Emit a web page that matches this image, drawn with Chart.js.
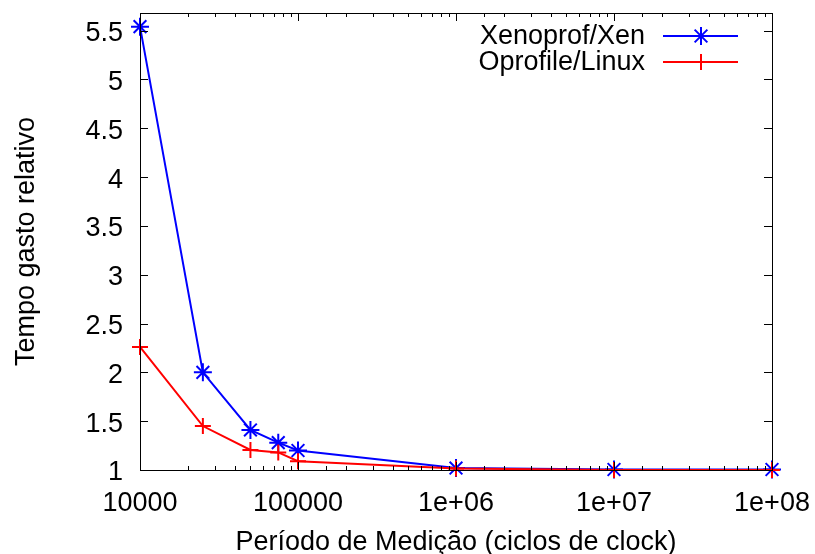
<!DOCTYPE html>
<html>
<head>
<meta charset="utf-8">
<script src="https://cdn.jsdelivr.net/npm/chart.js@4/dist/chart.umd.min.js"></script>
<style>
  html, body { margin: 0; padding: 0; background: #fff; }
  #wrap { width: 815px; height: 554px; }
</style>
</head>
<body>
<div id="wrap"><canvas id="chart" width="815" height="554"></canvas></div>
<script>
// --- DATA ---
const periods = [10000, 25000, 50000, 75000, 100000, 1e6, 1e7, 1e8];
const xenValues = [5.54, 2.0, 1.41, 1.28, 1.2, 1.02, 1.005, 1.005];
const linuxValues = [2.26, 1.45, 1.205, 1.18, 1.09, 1.015, 1.0, 1.0];
const seriesNames = ['Xenoprof/Xen', 'Oprofile/Linux'];
const xTickLabels = ['10000', '100000', '1e+06', '1e+07', '1e+08'];

const FONT = 'Liberation Sans, Arial, Helvetica, sans-serif';
const FSIZE = 27;
const BLUE = '#0000ff';
const RED = '#ff0000';

function drawStar(ctx, x, y, r) {
    ctx.beginPath();
    ctx.moveTo(x - r, y); ctx.lineTo(x + r, y);
    ctx.moveTo(x, y - r); ctx.lineTo(x, y + r);
    const d = r * 0.7071;
    ctx.moveTo(x - d, y - d); ctx.lineTo(x + d, y + d);
    ctx.moveTo(x - d, y + d); ctx.lineTo(x + d, y - d);
    ctx.stroke();
}
function drawPlus(ctx, x, y, r) {
    ctx.beginPath();
    ctx.moveTo(x - r, y); ctx.lineTo(x + r, y);
    ctx.moveTo(x, y - r); ctx.lineTo(x, y + r);
    ctx.stroke();
}

// gnuplot-like frame with inward ticks on all sides
const framePlugin = {
    id: 'frame',
    afterDatasetsDraw(chart) {
        const { ctx, chartArea: a, scales } = chart;
        ctx.save();
        ctx.strokeStyle = '#000';
        ctx.lineWidth = 1;
        ctx.beginPath();
        scales.y.ticks.forEach(t => {
            const py = Math.round(scales.y.getPixelForValue(t.value)) + 0.5;
            ctx.moveTo(a.left, py); ctx.lineTo(a.left + 8, py);
            ctx.moveTo(a.right, py); ctx.lineTo(a.right - 8, py);
        });
        scales.x.ticks.forEach(t => {
            const lg = Math.log10(t.value);
            const major = Math.abs(lg - Math.round(lg)) < 1e-9;
            const len = major ? 8 : 4;
            const px = Math.round(scales.x.getPixelForValue(t.value)) + 0.5;
            ctx.moveTo(px, a.bottom); ctx.lineTo(px, a.bottom - len);
            ctx.moveTo(px, a.top); ctx.lineTo(px, a.top + len);
        });
        ctx.stroke();
        ctx.strokeRect(Math.round(a.left) + 0.5, Math.round(a.top) + 0.5,
            Math.round(a.right - a.left), Math.round(a.bottom - a.top));
        ctx.restore();
    }
};

// legend in gnuplot style: text, then line sample with marker
const keyPlugin = {
    id: 'key',
    afterDraw(chart) {
        const { ctx } = chart;
        ctx.save();
        ctx.font = FSIZE + 'px ' + FONT;
        ctx.textAlign = 'right';
        ctx.textBaseline = 'middle';
        const rows = [36, 62];
        chart.data.datasets.forEach((ds, i) => {
            const y = rows[i];
            ctx.fillStyle = '#000';
            ctx.fillText(ds.label, 645, y + 1);
            ctx.strokeStyle = ds.borderColor;
            ctx.lineWidth = 2;
            ctx.beginPath();
            ctx.moveTo(663, y); ctx.lineTo(738, y);
            ctx.stroke();
            if (ds.pointStyle === 'star') drawStar(ctx, 701, y, 9);
            else drawPlus(ctx, 701, y, 8);
        });
        ctx.restore();
    }
};

new Chart(document.getElementById('chart'), {
    type: 'line',
    data: {
        datasets: [
            {
                label: seriesNames[0],
                data: periods.map((p, i) => ({ x: p, y: xenValues[i] })),
                borderColor: BLUE, backgroundColor: BLUE,
                borderWidth: 2, pointStyle: 'star', pointRadius: 9,
                pointBorderWidth: 2, pointHoverRadius: 9,
                tension: 0, clip: false, order: 2
            },
            {
                label: seriesNames[1],
                data: periods.map((p, i) => ({ x: p, y: linuxValues[i] })),
                borderColor: RED, backgroundColor: RED,
                borderWidth: 2, pointStyle: 'cross', pointRadius: 8,
                pointBorderWidth: 2, pointHoverRadius: 8,
                tension: 0, clip: false, order: 1
            }
        ]
    },
    options: {
        responsive: false,
        animation: false,
        devicePixelRatio: 1,
        layout: { padding: { top: 13, right: 43, left: 0, bottom: 0 } },
        plugins: { legend: { display: false }, tooltip: { enabled: false } },
        scales: {
            x: {
                type: 'logarithmic',
                min: 1e4, max: 1e8,
                grid: { display: false, drawTicks: false },
                border: { display: false },
                afterFit: s => { s.height = 84; s.paddingLeft = 0; s.paddingRight = 0; },
                ticks: {
                    autoSkip: false, maxRotation: 0, padding: 17,
                    color: '#000', font: { family: FONT, size: FSIZE },
                    callback: v => {
                        const lg = Math.log10(v);
                        if (Math.abs(lg - Math.round(lg)) > 1e-9) return '';
                        return xTickLabels[Math.round(lg) - 4];
                    }
                },
                title: {
                    display: true, text: 'Período de Medição (ciclos de clock)',
                    color: '#000', font: { family: FONT, size: FSIZE },
                    padding: { top: 0, bottom: -5 }
                }
            },
            y: {
                min: 1, max: 5.68,
                grid: { display: false, drawTicks: false },
                border: { display: false },
                afterFit: s => { s.width = 140; s.paddingTop = 0; s.paddingBottom = 0; },
                ticks: {
                    stepSize: 0.5, includeBounds: false, padding: 17, labelOffset: 3,
                    color: '#000', font: { family: FONT, size: FSIZE },
                    callback: v => String(v)
                },
                title: {
                    display: true, text: 'Tempo gasto relativo',
                    color: '#000', font: { family: FONT, size: FSIZE },
                    padding: { top: 10, bottom: 0 }
                }
            }
        }
    },
    plugins: [framePlugin, keyPlugin]
});
</script>
</body>
</html>
